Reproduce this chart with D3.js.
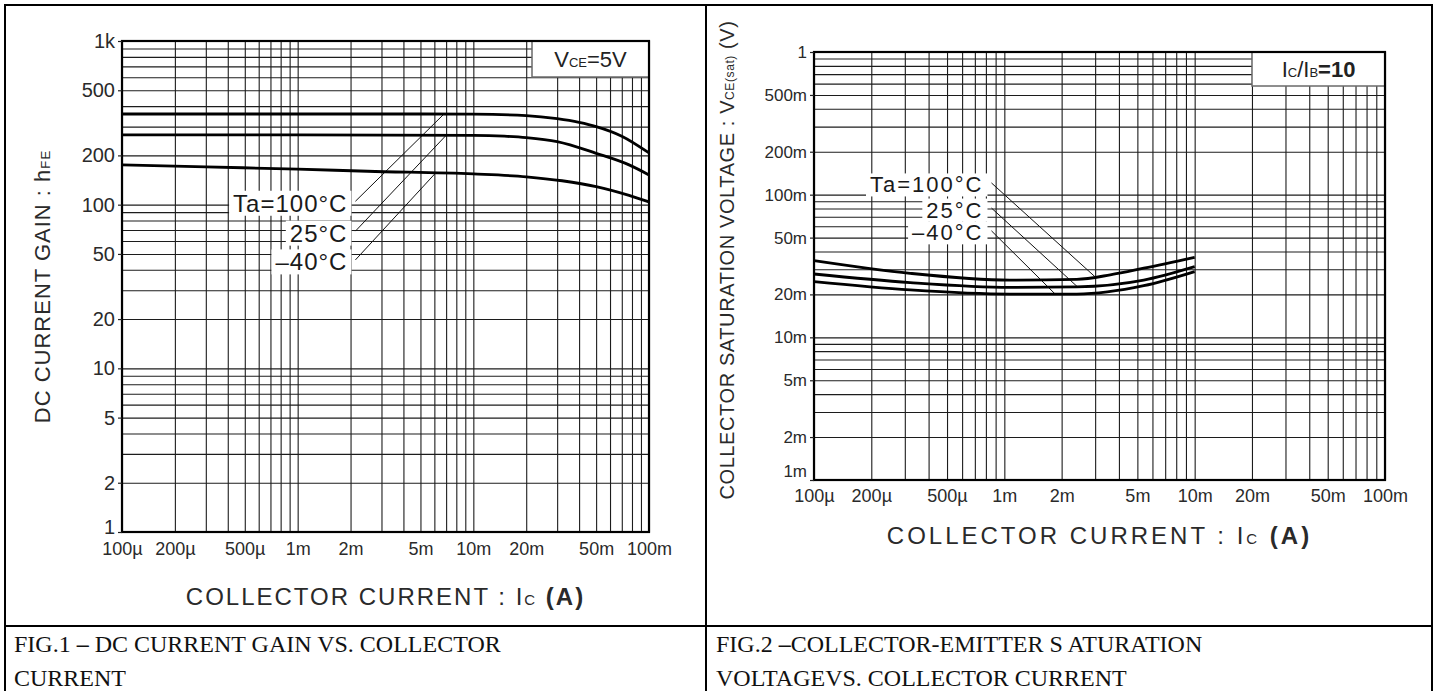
<!DOCTYPE html>
<html>
<head>
<meta charset="utf-8">
<script src="https://cdnjs.cloudflare.com/ajax/libs/d3/7.8.5/d3.min.js"></script>
<style>
  body { margin: 0; background: #fff; }
  svg { display: block; font-family: "Liberation Sans", Arial, Helvetica, sans-serif; }
</style>
</head>
<body>
<svg id="chart" width="1437" height="691"></svg>
<script>
// ---- data ----
const currentTicks = [1e-4, 2e-4, 5e-4, 1e-3, 2e-3, 5e-3, 1e-2, 2e-2, 5e-2, 1e-1];
const currentTickLabels = ["100µ", "200µ", "500µ", "1m", "2m", "5m", "10m", "20m", "50m", "100m"];

const gainTicks = [1, 2, 5, 10, 20, 50, 100, 200, 500, 1000];
const gainTickLabels = ["1", "2", "5", "10", "20", "50", "100", "200", "500", "1k"];

const vsatTicks = [1e-3, 2e-3, 5e-3, 1e-2, 2e-2, 5e-2, 0.1, 0.2, 0.5, 1];
const vsatTickLabels = ["1m", "2m", "5m", "10m", "20m", "50m", "100m", "200m", "500m", "1"];

const tempLabels = ["Ta=100°C", "25°C", "–40°C"];

// FIG.1 hFE vs Ic  [Ic (A), hFE]
const gain100 = [[1e-4, 358], [1e-3, 358], [5e-3, 358], [1e-2, 357], [2e-2, 350], [3e-2, 335], [4e-2, 318], [5e-2, 300], [7e-2, 262], [1e-1, 207]];
const gain25 = [[1e-4, 267], [1e-3, 267], [1e-2, 265], [1.5e-2, 262], [2e-2, 257], [3e-2, 243], [5e-2, 206], [7.7e-2, 175], [1e-1, 152]];
const gainM40 = [[1e-4, 175], [3e-4, 170], [1e-3, 165], [2.5e-3, 160], [1e-2, 154], [2e-2, 148], [3.2e-2, 140], [5e-2, 129], [7.7e-2, 114], [1e-1, 104]];
// label anchors (right end, data units) and where each leader meets its curve
const gainLabelAt = [[1.92e-3, 102], [1.92e-3, 67], [1.92e-3, 44.7]];
const gainLeaderIc = [6.8e-3, 7.0e-3, 6.1e-3];

// FIG.2 VCE(sat) vs Ic  [Ic (A), V]
const vsat100 = [[1e-4, 0.0345], [3.2e-4, 0.0281], [1.07e-3, 0.0252], [2.4e-3, 0.0255], [3.6e-3, 0.0274], [5.4e-3, 0.0305], [1e-2, 0.0364]];
const vsat25 = [[1e-4, 0.0278], [3.2e-4, 0.0242], [1.07e-3, 0.0224], [2.4e-3, 0.0226], [5.4e-3, 0.0252], [1e-2, 0.0313]];
const vsatM40 = [[1e-4, 0.0246], [3.2e-4, 0.0215], [1.07e-3, 0.0201], [2.4e-3, 0.0201], [5.4e-3, 0.0230], [1e-2, 0.0289]];
const vsatLabelAt = [[7.77e-4, 0.117], [7.77e-4, 0.078], [7.77e-4, 0.054]];
const vsatLeaderIc = [3.0e-3, 2.42e-3, 1.85e-3];

const svg = d3.select('#chart');

// value of a series at Ic, interpolated on log-log axes
function valueAt(series, ic) {
    const lx = Math.log10(ic);
    for (let i = 1; i < series.length; i++) {
        const a = series[i - 1], b = series[i];
        if (ic <= b[0]) {
            const t = (lx - Math.log10(a[0])) / (Math.log10(b[0]) - Math.log10(a[0]));
            return Math.pow(10, Math.log10(a[1]) + t * (Math.log10(b[1]) - Math.log10(a[1])));
        }
    }
    return series[series.length - 1][1];
}

function drawPanel(p) {
    const g = svg.append('g');
    const x = d3.scaleLog().domain([1e-4, 1e-1]).range([p.left, p.right]);
    const y = d3.scaleLog().domain(p.yDomain).range([p.bottom, p.top]);
    const w = p.right - p.left, h = p.bottom - p.top;

    // log grid
    const gx = g.append('g')
        .attr('transform', `translate(0,${p.bottom})`)
        .call(d3.axisBottom(x).tickValues(x.ticks()).tickSize(-h).tickFormat(''));
    const gy = g.append('g')
        .attr('transform', `translate(${p.left},0)`)
        .call(d3.axisLeft(y).tickValues(y.ticks()).tickSize(-w).tickFormat(''));
    [gx, gy].forEach(a => {
        a.select('.domain').remove();
        a.selectAll('line').attr('stroke', '#1c1c1c').attr('stroke-width', 1.1);
    });

    // temperature labels with white backing
    const labelG = g.append('g');
    const texts = labelG.selectAll('text')
        .data(p.labelAt)
        .enter()
        .append('text')
        .attr('x', d => x(d[0]))
        .attr('y', d => y(d[1]))
        .attr('text-anchor', 'end')
        .attr('dominant-baseline', 'central')
        .attr('font-size', p.labelSize)
        .attr('letter-spacing', p.labelSpacing)
        .attr('fill', '#1a1a1a')
        .text((d, i) => tempLabels[i]);
    texts.each(function () {
        const b = this.getBBox();
        labelG.insert('rect', 'text')
            .attr('x', b.x - 4).attr('y', b.y + 1)
            .attr('width', b.width + 8).attr('height', b.height - 2)
            .attr('fill', '#fff');
    });

    // leaders from label to curve
    g.selectAll('.leader')
        .data(p.labelAt)
        .enter()
        .append('line')
        .attr('x1', d => x(d[0]) + 8)
        .attr('y1', d => y(d[1]) - 2)
        .attr('x2', (d, i) => x(p.leaderIc[i]))
        .attr('y2', (d, i) => y(valueAt(p.series[i], p.leaderIc[i])))
        .attr('stroke', '#111')
        .attr('stroke-width', 1);

    // curves
    const line = d3.line()
        .x(d => x(d[0]))
        .y(d => y(d[1]))
        .curve(d3.curveMonotoneX);
    g.selectAll('.curve')
        .data(p.series)
        .enter()
        .append('path')
        .attr('d', line)
        .attr('fill', 'none')
        .attr('stroke', '#000')
        .attr('stroke-width', 2.8);

    // condition box
    g.append('rect')
        .attr('x', p.right - p.boxW).attr('y', p.top)
        .attr('width', p.boxW).attr('height', p.boxH)
        .attr('fill', '#fff')
        .attr('stroke', '#6a6a6a')
        .attr('stroke-width', 1.5);
    const cond = g.append('text')
        .attr('x', p.right - p.boxW / 2)
        .attr('y', p.top + p.boxH / 2 + 8)
        .attr('text-anchor', 'middle')
        .attr('font-size', 22)
        .attr('fill', '#222');
    p.boxText.forEach(t => {
        cond.append('tspan').attr('font-size', t.sub ? 13 : 22)
            .attr('font-weight', t.bold ? 'bold' : null).text(t.s);
    });

    // frame
    g.append('rect')
        .attr('x', p.left).attr('y', p.top)
        .attr('width', w).attr('height', h)
        .attr('fill', 'none')
        .attr('stroke', '#000')
        .attr('stroke-width', 2.2);

    // tick labels
    const ay = g.append('g')
        .attr('transform', `translate(${p.left},0)`)
        .call(d3.axisLeft(y).tickValues(p.yTicks).tickFormat((d, i) => p.yLabels[i]).tickSize(4).tickPadding(3));
    ay.select('.domain').remove();
    ay.selectAll('line').attr('stroke', '#222').attr('stroke-width', 1.2);
    ay.selectAll('text').attr('font-size', p.yTickSize).attr('fill', '#2a2a2a')
        .attr('font-family', 'inherit');
    ay.select('.tick text').attr('transform', `translate(0,${p.firstYShift})`);

    const ax = g.append('g')
        .attr('transform', `translate(0,${p.bottom})`)
        .call(d3.axisBottom(x).tickValues(currentTicks).tickFormat((d, i) => currentTickLabels[i]).tickSize(0).tickPadding(p.xPad));
    ax.select('.domain').remove();
    ax.selectAll('text').attr('font-size', 18).attr('fill', '#2a2a2a')
        .attr('font-family', 'inherit');

    // axis titles
    const xt = g.append('text')
        .attr('x', (p.left + p.right) / 2)
        .attr('y', p.bottom + p.xTitleOff)
        .attr('text-anchor', 'middle')
        .attr('font-size', 24)
        .attr('letter-spacing', p.xTitleSpacing)
        .attr('fill', '#2a2a2a');
    xt.append('tspan').text('COLLECTOR  CURRENT : I');
    xt.append('tspan').attr('font-size', 15).text('C');
    xt.append('tspan').text(' (A)').attr('font-weight', 'bold');

    const yt = g.append('text')
        .attr('transform', `translate(${p.yTitleX},${(p.top + p.bottom) / 2 + p.yTitleShift}) rotate(-90)`)
        .attr('text-anchor', 'middle')
        .attr('font-size', p.yTitleSize)
        .attr('letter-spacing', p.yTitleSpacing)
        .attr('fill', '#2a2a2a');
    p.yTitle.forEach(t => {
        yt.append('tspan').attr('font-size', t.sub ? p.yTitleSize * 0.6 : null).text(t.s);
    });
}

// table frame
svg.append('rect')
    .attr('x', 5).attr('y', 5).attr('width', 1427).attr('height', 700)
    .attr('fill', 'none').attr('stroke', '#000').attr('stroke-width', 2);
svg.append('line').attr('x1', 706).attr('x2', 706).attr('y1', 5).attr('y2', 705)
    .attr('stroke', '#000').attr('stroke-width', 2);
svg.append('line').attr('x1', 5).attr('x2', 1432).attr('y1', 626).attr('y2', 626)
    .attr('stroke', '#000').attr('stroke-width', 2);

drawPanel({
    left: 122, right: 649, top: 41, bottom: 532,
    yDomain: [1, 1000], yTicks: gainTicks, yLabels: gainTickLabels, yTickSize: 20,
    firstYShift: -5,
    series: [gain100, gain25, gainM40],
    labelAt: gainLabelAt, leaderIc: gainLeaderIc,
    labelSize: 24, labelSpacing: 1,
    boxW: 117, boxH: 36,
    boxText: [{ s: 'V' }, { s: 'CE', sub: true }, { s: '=5V' }],
    xPad: 10, xTitleOff: 73, xTitleSpacing: 2,
    yTitleX: 50, yTitleShift: 0, yTitleSize: 22, yTitleSpacing: 1,
    yTitle: [{ s: 'DC  CURRENT  GAIN : h' }, { s: 'FE', sub: true }]
});

drawPanel({
    left: 814, right: 1385, top: 52, bottom: 480,
    yDomain: [1e-3, 1], yTicks: vsatTicks, yLabels: vsatTickLabels, yTickSize: 17,
    firstYShift: -9,
    series: [vsat100, vsat25, vsatM40],
    labelAt: vsatLabelAt, leaderIc: vsatLeaderIc,
    labelSize: 22, labelSpacing: 2,
    boxW: 133, boxH: 34,
    boxText: [{ s: 'I' }, { s: 'C', sub: true }, { s: '/I' }, { s: 'B', sub: true }, { s: '=10', bold: true }],
    xPad: 9, xTitleOff: 64, xTitleSpacing: 3,
    yTitleX: 734, yTitleShift: -6, yTitleSize: 20, yTitleSpacing: 0.6,
    yTitle: [{ s: 'COLLECTOR  SATURATION  VOLTAGE : V' }, { s: 'CE(sat)', sub: true }, { s: ' (V)' }]
});

// captions
const captions = [
    { x: 14, lines: ['FIG.1 ', '–', ' DC CURRENT GAIN VS. COLLECTOR'], line2: 'CURRENT' },
    { x: 716, lines: ['FIG.2 ', '–', 'COLLECTOR-EMITTER S ATURATION'], line2: 'VOLTAGEVS. COLLECTOR CURRENT' }
];
captions.forEach(c => {
    const t = svg.append('text')
        .attr('x', c.x).attr('y', 652)
        .attr('font-family', '"Liberation Serif", "Times New Roman", serif')
        .attr('font-size', 24)
        .attr('fill', '#111');
    c.lines.forEach((s, i) => t.append('tspan').attr('font-weight', i === 1 ? 'bold' : null).text(s));
    svg.append('text')
        .attr('x', c.x).attr('y', 686)
        .attr('font-family', '"Liberation Serif", "Times New Roman", serif')
        .attr('font-size', 24)
        .attr('fill', '#111')
        .text(c.line2);
});
</script>
</body>
</html>
